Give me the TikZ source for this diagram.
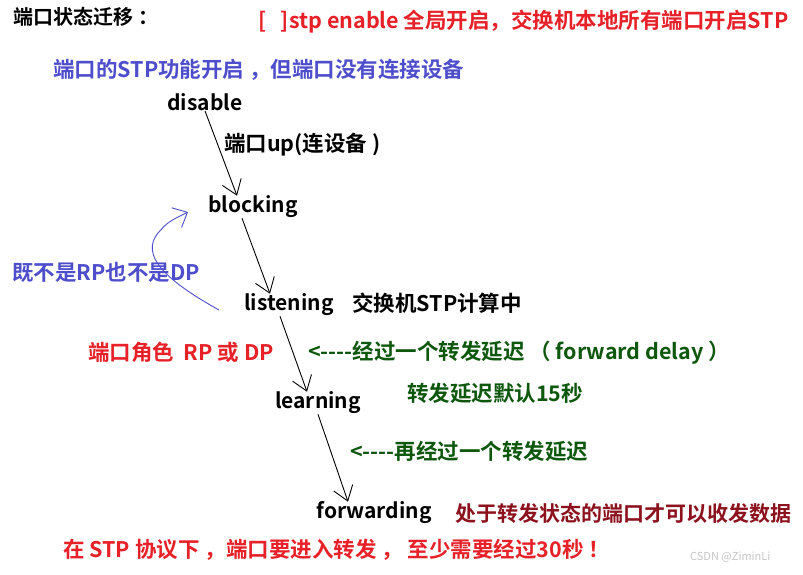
\documentclass[tikz,border=0pt]{standalone}
\usepackage{fontspec}
\setmainfont{Noto Sans CJK SC}[BoldFont={Noto Sans CJK SC Bold},Ligatures=TeXOff]
\usetikzlibrary{arrows.meta}
\definecolor{notered}{RGB}{232,32,40}
\definecolor{noteblue}{RGB}{78,78,205}
\definecolor{notegreen}{RGB}{14,88,14}
\definecolor{notemaroon}{RGB}{140,18,30}
\tikzset{
  state/.style={font=\bfseries\fontsize{21}{24}\selectfont, inner sep=0pt},
  txt/.style={font=\bfseries\fontsize{21.5}{24}\selectfont, anchor=west, inner sep=0pt},
  trans/.style={line width=0.9pt, -{Straight Barb[length=14pt,width=20pt]}}
}

\begin{document}
\begin{tikzpicture}[x=1pt,y=-1pt]
\fill[white] (0,0) rectangle (803,575);
\useasboundingbox (0,0) rectangle (803,575);

\node[txt,font=\bfseries\fontsize{20}{23}\selectfont] (title) at (13,17) {端口状态迁移\hspace{5pt}：};
\node[txt,notered] (enable) at (258,22) {[\ \ \ ]stp enable 全局开启，交换机本地所有端口开启STP};
\node[txt,noteblue] (portup) at (53,70) {端口的STP功能开启 ，但端口没有连接设备};

\node[state] (disable) at (205,102) {disable};
\node[state] (blocking) at (253,207) {blocking};
\node[state] (listening) at (289,305) {listening};
\node[state] (learning) at (318,403) {learning};
\node[state] (forwarding) at (374,513) {forwarding};

\node[txt] (link) at (224,145) {端口up(连设备 )};
\node[txt] (calc) at (352,303) {交换机STP计算中};
\node[txt,noteblue] (neither) at (12,272) {既不是RP也不是DP};
\node[txt,notered] (role) at (88,352) {端口角色\ \ RP 或 DP};
\node[txt,notegreen] (delay) at (308,353) {<----经过一个转发延迟 （ forward delay ）};
\node[txt,notegreen] (default) at (407,393) {转发延迟默认15秒};
\node[txt,notegreen] (again) at (350,451) {<----再经过一个转发延迟};
\node[txt,notemaroon,font=\bfseries\fontsize{21}{24}\selectfont] (fwdnote) at (455,513) {处于转发状态的端口才可以收发数据};
\node[txt,notered] (summary) at (63,550) {在 STP 协议下 ，端口要进入转发 ， 至少需要经过30秒 ！};
\node[anchor=west,inner sep=0pt,gray!45,font=\fontsize{11}{13}\selectfont] (mark) at (690,557) {CSDN @ZiminLi};

\draw[trans] (disable.south) -- ([xshift=-16pt]blocking.north);
\draw[trans] ([xshift=-11pt]blocking.south) -- ([xshift=-19pt]listening.north);
\draw[trans] ([xshift=-9pt]listening.south) -- ([xshift=-11pt]learning.north);
\draw[trans] (learning.south) -- ([xshift=-26pt]forwarding.north);

\coordinate (back) at (219,310);
\coordinate (up) at (188,212);
\draw[noteblue,line width=0.9pt,-{Straight Barb[length=12pt,width=22pt]}]
  (back) .. controls (165,280) and (140,255) .. (158,233) .. controls (168,222) .. (up);
\end{tikzpicture}
\end{document}
